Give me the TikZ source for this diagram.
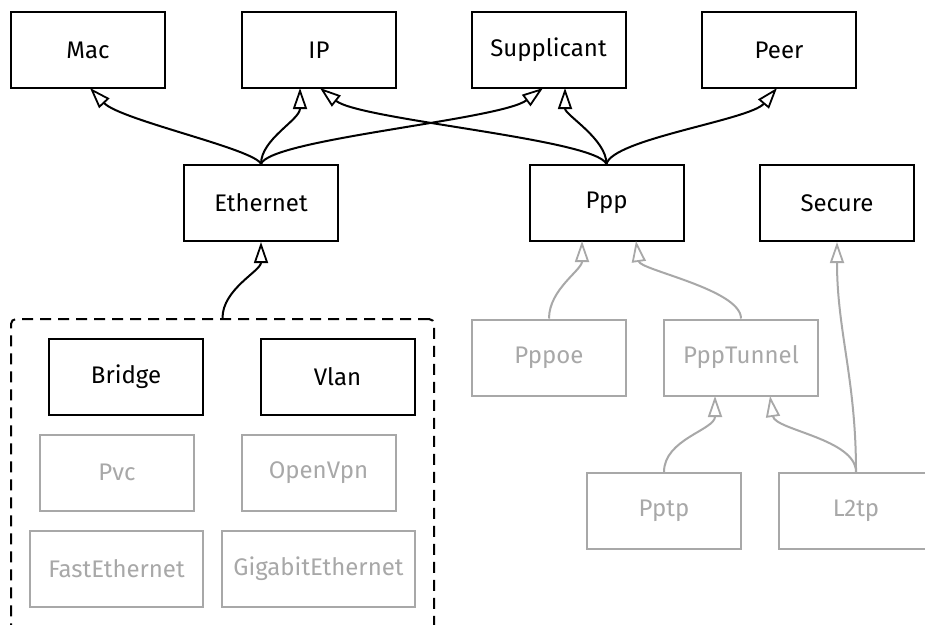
\documentclass[tikz,border=0pt]{standalone}
\usepackage{fontspec}
\setmainfont{Fira Sans}
\usetikzlibrary{arrows.meta}
\definecolor{lightg}{HTML}{A8A8A8}
\tikzset{
  cls/.style={draw=black, line width=2pt, minimum width=154pt, minimum height=76pt, inner sep=0pt, font=\fontsize{24}{28}\selectfont, text=black},
  gcls/.style={cls, draw=lightg, text=lightg},
  inh/.style={line width=2pt, -{Triangle[open, length=21pt, width=14pt, line width=1.8pt]}},
  ginh/.style={inh, draw=lightg},
  grp/.style={draw=black, line width=2pt, dashed, dash pattern=on 11pt off 7pt, rounded corners=5pt, minimum width=423pt, minimum height=340pt, inner sep=0pt}
}
\begin{document}
\begin{tikzpicture}[x=1pt, y=-1pt]
\useasboundingbox (0,0) rectangle (925,624);
\clip (0,0) rectangle (925,624);
\fill[white] (0,0) rectangle (925,624);
% top row
\node[cls] (mac) at (88,50) {Mac};
\node[cls] (ip) at (319,50) {IP};
\node[cls] (sup) at (548.5,50) {Supplicant};
\node[cls] (peer) at (779,50) {Peer};
% middle row
\node[cls] (eth) at (261,203) {Ethernet};
\node[cls] (ppp) at (606.5,203) {Ppp};
\node[cls] (sec) at (837,203) {Secure};
% group
\node[grp] (grp) at (222.5,489) {};
\node[cls] (bridge) at (126,376.5) {Bridge};
\node[cls] (vlan) at (337.5,376.5) {Vlan};
\node[gcls] (pvc) at (117,472.5) {Pvc};
\node[gcls] (ovpn) at (318.5,472.5) {OpenVpn};
\node[gcls, minimum width=173pt] (fast) at (116.5,568.5) {FastEthernet};
\node[gcls, minimum width=193pt] (giga) at (318.5,568.5) {GigabitEthernet};
% ppp family
\node[gcls] (pppoe) at (549,357.5) {Pppoe};
\node[gcls] (tun) at (741,357.5) {PppTunnel};
\node[gcls] (pptp) at (664,511) {Pptp};
\node[gcls] (l2tp) at (856,511) {L2tp};
% edges to top
\coordinate (macA) at (90,88);
\coordinate (ipA) at (300,88);
\coordinate (ipB) at (320,88);
\coordinate (supA) at (543,88);
\coordinate (supB) at (565,88);
\coordinate (peerA) at (777,88);
\draw[inh] (eth.north) .. controls +(-6,-15) and +(30,32) .. (macA);
\draw[inh] (eth.north) .. controls +(0,-25) and +(0,32) .. (ipA);
\draw[inh] (eth.north) .. controls +(9,-25) and +(-43,32) .. (supA);
\draw[inh] (ppp.north) .. controls +(-11,-25) and +(40,32) .. (ipB);
\draw[inh] (ppp.north) .. controls +(0,-25) and +(0,27) .. (supB);
\draw[inh] (ppp.north) .. controls +(6,-25) and +(-27,32) .. (peerA);
% group to ethernet
\draw[inh] (grp.north) .. controls +(0,-29) and +(0,29) .. (eth.south);
% gray edges
\coordinate (pppA) at (582,241);
\coordinate (pppB) at (636,241);
\coordinate (tunA) at (715,396);
\coordinate (tunB) at (770,396);
\draw[ginh] (pppoe.north) .. controls +(0,-29) and +(0,29) .. (pppA);
\draw[ginh] (tun.north) .. controls +(0,-29) and +(4,29) .. (pppB);
\draw[ginh] (pptp.north) .. controls +(0,-33) and +(0,34) .. (tunA);
\draw[ginh] (l2tp.north) .. controls +(0,-33) and +(5,34) .. (tunB);
\draw[ginh] (l2tp.north) .. controls +(0,-93) and +(0,89) .. (sec.south);
\end{tikzpicture}
\end{document}
